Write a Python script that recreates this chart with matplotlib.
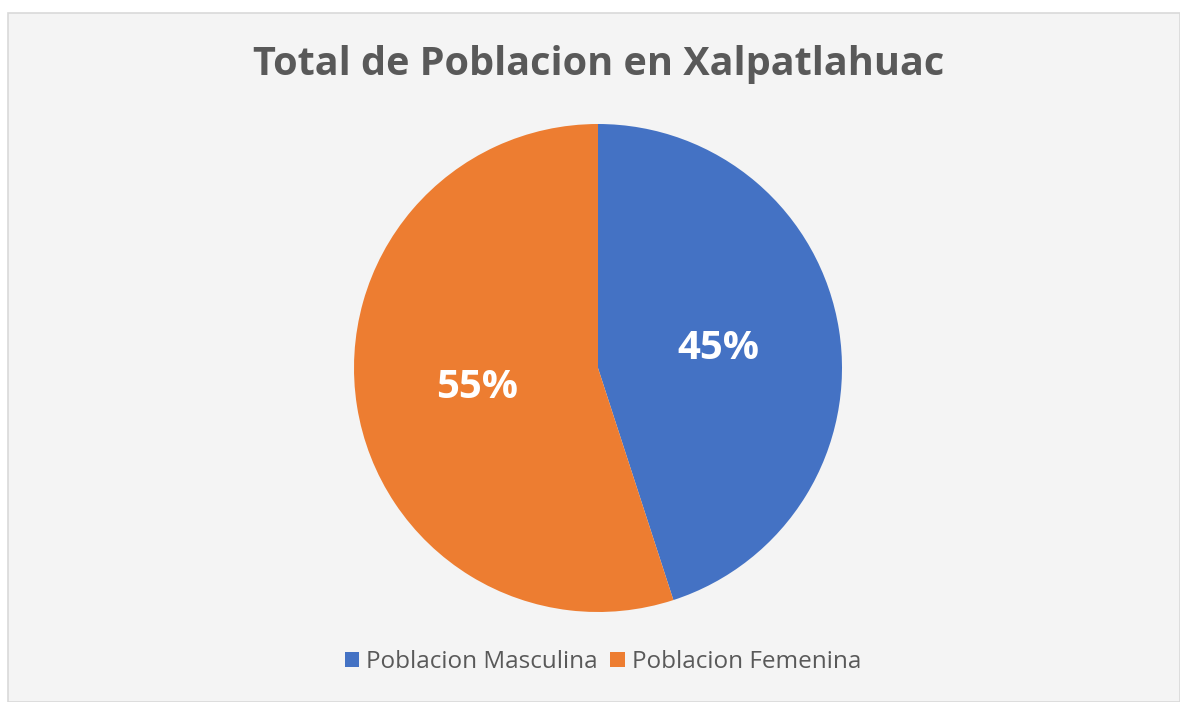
import matplotlib.pyplot as plt
from matplotlib.patches import Rectangle

# data
labels = ['Poblacion Masculina', 'Poblacion Femenina']
shares = [45, 55]
colors = ['#4472C4', '#ED7D31']
TITLE = 'Total de Poblacion en Xalpatlahuac'

W, H = 1180, 702
fig = plt.figure(figsize=(W / 100, H / 100), dpi=100)
fig.patch.set_facecolor('white')

# chart area background with thin border
fig.patches.append(Rectangle((8 / W, 0), 1 - 8 / W, 1 - 13 / H, transform=fig.transFigure,
                             facecolor='#f4f4f4', edgecolor='#d9d9d9', linewidth=1.2, zorder=-5))

cx, cy, r = 598, 368, 244
ax = fig.add_axes([(cx - r) / W, (H - cy - r) / H, 2 * r / W, 2 * r / H], zorder=2)
wedges, texts, autotexts = ax.pie(shares, colors=colors, startangle=90, counterclock=False,
                                  autopct='%d%%', pctdistance=0.5,
                                  wedgeprops=dict(linewidth=0))
for t in autotexts:
    t.set_color('white')
    t.set_fontsize(29)
    t.set_fontweight('bold')
    t.set_family('Open Sans')
ax.set_xlim(-1, 1)
ax.set_ylim(-1, 1)
ax.set_aspect('equal')
ax.axis('off')

fig.text(599 / W, 1 - 65 / H, TITLE, ha='center', va='center', fontsize=28.5,
         fontweight='bold', color='#595959', family='Open Sans')

fig.legend(wedges, labels, loc='center', bbox_to_anchor=(603 / W, 1 - 662 / H), ncol=2,
           frameon=False, prop={'family': 'Open Sans', 'size': 17.5}, labelcolor='#595959',
           handlelength=0.6, handleheight=0.6, handletextpad=0.3, columnspacing=0.5)

fig.savefig('out.png', dpi=100, facecolor=fig.get_facecolor())
